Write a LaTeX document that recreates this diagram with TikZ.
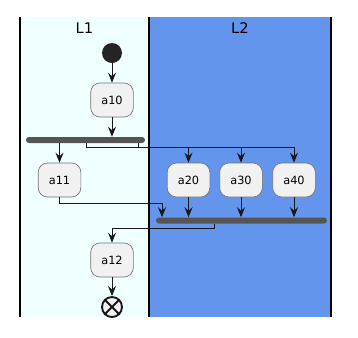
\documentclass[tikz,border=0pt]{standalone}
\usepackage{fontspec}
\setmainfont{DejaVu Sans}
\usetikzlibrary{arrows.meta}
\definecolor{carril}{HTML}{F0FFFF}
\definecolor{azulc}{HTML}{6495ED}
\definecolor{caja}{HTML}{F1F1F1}
\definecolor{barra}{HTML}{555555}
\definecolor{tinta}{HTML}{181818}
\tikzset{
  act/.style={draw=black!55, line width=0.5pt, fill=caja, rounded corners=7pt,
    minimum width=32pt, minimum height=25.5pt, inner sep=2pt, font=\fontsize{8.5}{10}\selectfont},
  sync/.style={fill=barra, rounded corners=2.2pt, inner sep=0pt, minimum height=4.5pt},
  fl/.style={-{Stealth[length=7.5pt, width=6pt, inset=2.6pt]}, line width=0.75pt, tinta},
  ln/.style={line width=0.75pt, tinta},
  carrilt/.style={font=\fontsize{11}{13}\selectfont},
}
\begin{document}
\begin{tikzpicture}[x=0.75pt, y=-0.75pt]
  \useasboundingbox (0,0) rectangle (358,337);
  % swimlanes
  \fill[carril] (20,17) rectangle (149,317);
  \fill[azulc] (149,17) rectangle (331,317);
  \foreach \xl in {20,149,331} \draw[line width=1.1pt, black] (\xl,17) -- (\xl,317);
  \node[carrilt] (l1) at (84.5,28.5) {L1};
  \node[carrilt] (l2) at (240,28.5) {L2};
  % nodes
  \node[circle, fill=tinta!95, minimum size=15pt, inner sep=0pt] (ini) at (112,53) {};
  \node[act] (a10) at (112,100) {a10};
  \node[sync, minimum width=89.25pt] (f1) at (85.5,140) {};
  \node[act] (a11) at (59.5,180) {a11};
  \node[act] (a20) at (188.5,180) {a20};
  \node[act] (a30) at (241,180) {a30};
  \node[act] (a40) at (294,180) {a40};
  \node[sync, minimum width=128.25pt] (f2) at (241.5,220.5) {};
  \node[act] (a12) at (112,260) {a12};
  \node[circle, draw=tinta, line width=1.4pt, fill=caja, minimum size=15pt, inner sep=0pt] (fin) at (112,307) {};
  \draw[tinta, line width=1.4pt] (fin.north west) -- (fin.south east) (fin.north east) -- (fin.south west);
  % routing points
  \coordinate (s1) at (86,147);
  \coordinate (s2) at (138,147);
  \coordinate (s3) at (162,203);
  \coordinate (s4) at (214,228);
  % flows
  \draw[fl] (ini) -- (a10);
  \draw[fl] (a10.south) -- (a10.south |- f1.north);
  \draw[fl] (a11.north |- f1.south) -- (a11.north);
  \draw[fl] (s1 |- f1.south) -- (s1) -| (a40.north);
  \draw[ln] (s2 |- f1.south) -- (s2);
  \draw[fl] (a20.north |- s1) -- (a20.north);
  \draw[fl] (a30.north |- s1) -- (a30.north);
  \draw[fl] (a11.south) |- (s3) -- (s3 |- f2.north);
  \foreach \n in {a20,a30,a40} \draw[fl] (\n.south) -- (\n.south |- f2.north);
  \draw[fl] (s4 |- f2.south) -- (s4) -| (a12.north);
  \draw[fl] (a12) -- (fin);
\end{tikzpicture}
\end{document}
